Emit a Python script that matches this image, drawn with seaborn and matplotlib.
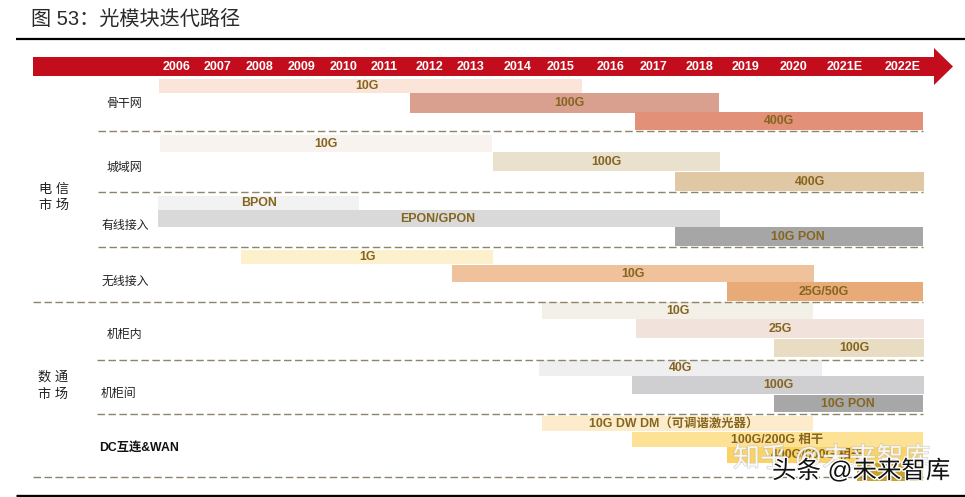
import numpy as np
import pandas as pd
import matplotlib
matplotlib.use("Agg")
import matplotlib.pyplot as plt
import matplotlib.patheffects as pe
import seaborn as sns

# ---- data -------------------------------------------------------------
years = [2006, 2007, 2008, 2009, 2010, 2011, 2012, 2013, 2014, 2015, 2016,
         2017, 2018, 2019, 2020, 2021, 2022]
year_labels = ["2006", "2007", "2008", "2009", "2010", "2011", "2012", "2013",
               "2014", "2015", "2016", "2017", "2018", "2019", "2020", "2021E", "2022E"]

segment_labels = ["10G", "100G", "400G",
                  "10G", "100G", "400G",
                  "BPON", "EPON/GPON", "10G PON",
                  "1G", "10G", "25G/50G",
                  "10G", "25G", "100G",
                  "40G", "100G", "10G PON",
                  "10G DW DM（可调谐激光器）", "100G/200G 相干", "400G/600G 相干", ""]
segment_start = [2005.56, 2011.58, 2016.56,
                 2005.59, 2013.47, 2017.47,
                 2005.54, 2005.54, 2017.46,
                 2007.56, 2012.55, 2018.60,
                 2014.56, 2016.58, 2019.60,
                 2014.49, 2016.49, 2019.60,
                 2014.56, 2016.49, 2018.61, 2021.20]
segment_end = [2015.42, 2018.43, 2022.34,
               2013.45, 2018.46, 2022.36,
               2010.38, 2018.46, 2022.34,
               2013.46, 2020.40, 2022.34,
               2020.38, 2022.36, 2022.36,
               2020.56, 2022.36, 2022.34,
               2020.38, 2022.34, 2022.34, 2022.34]
label_year = [2010.58, 2015.16, 2019.70,
              2009.57, 2015.90, 2020.33,
              2007.99, 2012.21, 2020.10,
              2010.58, 2016.51, 2020.60,
              2017.53, 2019.73, 2021.17,
              2017.58, 2019.69, 2021.05,
              2017.44, 2019.67, 2020.46, 2021.7]

group_labels = ["电 信\n市 场", "数 通\n市 场"]
row_labels = ["骨干网", "城域网", "有线接入", "无线接入", "机柜内", "机柜间"]

# ---- layout and style (pixels of the 965x497 picture) --------------------
year_px = [0, 136, 177, 218, 259, 302, 344, 384, 429, 471, 518, 561, 611,
           654, 699, 745, 793, 845, 903, 961, 1019]
year_knots = [2002, 2005] + years + [2023, 2024]
lane_top = [79, 93, 112, 135, 152, 172, 196, 209.5, 227, 250, 265, 282,
            302, 319, 339, 360, 376, 395, 416, 432, 447, 463]
lane_bottom = [93, 112.5, 129.5, 152, 171, 191, 209.5, 227, 246, 264, 282, 301,
               319, 338, 357, 376, 394, 412, 431, 447, 463, 481]
segment_colors = ["#FBE5D8", "#D9A08F", "#E29077",
                  "#F8F3EE", "#E9E0CE", "#E0C8A4",
                  "#F2F2F2", "#D9D9D9", "#A6A6A6",
                  "#FDF1CD", "#EFC29C", "#E8AB78",
                  "#F3F0E8", "#F1E2DB", "#E8DDC3",
                  "#EFEFEF", "#CFCFD1", "#A8A7A8",
                  "#FDECCB", "#FDE194", "#FBD365", "#C9A227"]
label_color = "#85651F"
dash_color = "#8E8468"
red = "#C30D1C"
dash_rows = [(131, 98), (192, 98), (247, 98), (301.5, 33), (360, 97), (414, 97), (477, 33)]
row_px = [(124, 104), (124, 168), (125, 226), (125, 282), (124, 335), (118, 394)]
group_px = [(54, 198), (53, 386)]

sns.set_theme(style="white")
latin_cjk = ["Liberation Sans", "Noto Sans CJK SC"]
plt.rcParams["font.family"] = latin_cjk

W, H = 965, 497
fig = plt.figure(figsize=(W / 100, H / 100), dpi=100, facecolor="white")
ax = fig.add_axes([0, 0, 1, 1])


def to_px(v):
    # the source timeline spaces its years unevenly
    return np.interp(v, year_knots, year_px)


for i, lbl in enumerate(segment_labels):
    left = to_px(segment_start[i])
    seg = pd.DataFrame({"span": [to_px(segment_end[i]) - left],
                        "lane": [(lane_top[i] + lane_bottom[i]) / 2]})
    sns.barplot(data=seg, x="span", y="lane", orient="y", native_scale=True,
                left=left, width=lane_bottom[i] - lane_top[i],
                color=segment_colors[i], saturation=1, linewidth=0, ax=ax)
    if lbl:
        ax.text(to_px(label_year[i]), (lane_top[i] + lane_bottom[i]) / 2 + 0.3, lbl,
                ha="center", va="center", fontsize=8.9, fontweight="bold",
                color=label_color, zorder=5)

ax.set_xlim(0, W)
ax.set_ylim(H, 0)
ax.axis("off")

ax.fill([33, 934, 934, 953, 934, 934, 33], [57, 57, 48, 66.5, 85, 76, 76],
        color=red, lw=0, zorder=3)
for y, lab in zip(years, year_labels):
    ax.text(to_px(y), 66.8, lab, ha="center", va="center",
            color="white", fontsize=9, fontweight="bold", zorder=5)

ax.plot([16, 965], [39, 39], color="black", lw=1.6, solid_capstyle="butt", zorder=4)
ax.plot([16, 965], [495.5, 495.5], color="black", lw=2.4, solid_capstyle="butt", zorder=4)
for y, x0 in dash_rows:
    ax.plot([x0, 923], [y, y], color=dash_color, lw=1, dashes=(5.4, 2.5), zorder=4)

ax.text(31, 19, "图 53：光模块迭代路径", fontsize=14.5, color="#2A2A2A",
        ha="left", va="center")
for (x, y), s in zip(row_px, row_labels):
    ax.text(x, y, s, fontsize=8.6, color="#222222", ha="center", va="center")
ax.text(99, 448, "DC互连&WAN", fontsize=8.8, fontweight="bold", color="#111111",
        ha="left", va="center")
for (x, y), s in zip(group_px, group_labels):
    ax.text(x, y, s, fontsize=9.5, color="#222222", ha="center", va="center",
            linespacing=1.5)

ax.text(733, 459, "知乎 @未来智库", fontsize=19.5, color="white", alpha=0.75, ha="left",
        va="center", zorder=6,
        path_effects=[pe.withStroke(linewidth=1, foreground="#BBBBBB", alpha=0.6)])
ax.text(772, 471, "头条 @未来智库", fontsize=17.6, color="#111111", ha="left", va="center",
        zorder=7, path_effects=[pe.withStroke(linewidth=2, foreground="white")])

fig.savefig("out.png", dpi=100)
